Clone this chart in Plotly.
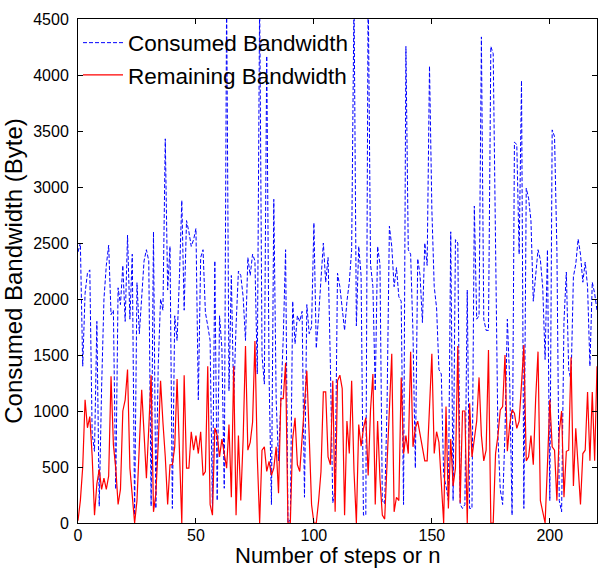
import plotly.graph_objects as go

steps = list(range(221))

consumed = [
    2420, 2500, 1400, 2050, 2230, 2260, 800, 640, 1800, 150,
    1200, 2000, 2300, 2480, 1860, 1900, 300, 2100, 1950, 2300,
    1800, 2570, 1820, 2400, 70, 2145, 1690, 1980, 2340, 2440,
    2340, 150, 2600, 130, 1400, 2000, 1900, 3430, 2080, 2470,
    130, 1850, 1630, 2200, 2880, 1900, 2700, 2600, 2470, 2530,
    2630, 1100, 2370, 2440, 1880, 1760, 1630, 100, 2340, 200,
    1850, 1560, 310, 4700, 1180, 2210, 1100, 1760, 2250, 2210,
    2020, 1630, 2370, 2210, 2400, 2340, 1330, 4700, 1500, 1240,
    4170, 1300, 165, 2890, 1100, 555, 1040, 1650, 2440, 0,
    30, 1980, 1600, 1850, 1800, 1890, 230, 1950, 1690, 1750,
    2680, 1560, 1850, 2180, 2500, 2150, 2370, 1400, 180, 300,
    2230, 2110, 1890, 1720, 1980, 2150, 2440, 4700, 1760, 2470,
    2210, 70, 70, 4800, 2310, 2110, 1180, 2470, 2310, 200,
    170, 1040, 2650, 2470, 2110, 2280, 2020, 1980, 165, 4255,
    2440, 2400, 1690, 490, 2360, 2210, 1790, 2500, 2300, 4080,
    2800, 2110, 1920, 1370, 1330, 425, 330, 200, 2600, 200,
    2530, 2500, 165, 130, 165, 2080, 130, 130, 2830, 1820,
    1850, 4340, 1820, 1720, 1720, 4255, 4190, 2400, 780, 300,
    165, 810, 1820, 1270, 70, 3400, 3380, 2400, 3950, 130,
    2990, 2900, 2700, 1980, 2180, 2440, 2350, 2100, 1460, 2440,
    200, 3510, 3450, 2440, 200, 100, 1800, 2240, 1370, 1270,
    2200, 2310, 2535, 2400, 2150, 2330, 2110, 1400, 2150, 2050,
    1900,
]

remaining = [
    20, 200, 500, 1100, 850, 950, 600, 70, 350, 480,
    300, 400, 300, 420, 1310, 700, 490, 165, 300, 1000,
    1100, 1370, 490, 250, 0, 200, 700, 1190, 800, 400,
    850, 1320, 100, 260, 700, 1270, 900, 590, 165, 520,
    520, 680, 1285, 590, 0, 1320, 490, 490, 815, 650,
    780, 620, 815, 425, 460, 1400, 165, 70, 850, 780,
    590, 750, 620, 490, 880, 230, 1400, 70, 780, 200,
    750, 1580, 650, 720, 900, 1625, 590, 0, 650, 680,
    460, 550, 425, 490, 680, 265, 1110, 1110, 1430, 0,
    0, 750, 940, 520, 460, 750, 1100, 1360, 780, 165,
    0, 0, 200, 460, 1170, 1170, 590, 520, 1270, 100,
    1270, 1320, 1200, 70, 910, 620, 1270, 460, 0, 880,
    685, 845, 940, 425, 1010, 1330, 165, 910, 390, 70,
    35, 520, 1075, 1510, 100, 230, 200, 1300, 620, 780,
    620, 1530, 680, 845, 910, 780, 650, 555, 555, 1000,
    1510, 620, 815, 720, 300, 0, 1040, 130, 750, 330,
    490, 1580, 180, 1000, 1000, 0, 1070, 590, 750, 910,
    1300, 780, 555, 650, 1545, 0, 0, 620, 780, 1010,
    1040, 1500, 640, 880, 1010, 980, 845, 910, 1240, 1590,
    555, 590, 780, 520, 1110, 1530, 200, 100, 0, 520,
    1100, 680, 650, 200, 815, 1000, 230, 640, 650, 1480,
    330, 845, 520, 165, 620, 650, 1170, 555, 1170, 555,
    1400,
]

x_ticks = [0, 50, 100, 150, 200]
y_ticks = [0, 500, 1000, 1500, 2000, 2500, 3000, 3500, 4000, 4500]
x_title = "Number of steps or n"
y_title = "Consumed Bandwidth (Byte)"

FONT = "Liberation Sans, Arial, sans-serif"

fig = go.Figure()
fig.add_trace(go.Scatter(
    x=steps, y=consumed, mode="lines", name="Consumed Bandwidth",
    line=dict(color="#0000FF", width=1, dash="4px,2px"),
))
fig.add_trace(go.Scatter(
    x=steps, y=remaining, mode="lines", name="Remaining Bandwidth",
    line=dict(color="#FF0000", width=1.2),
))

axis_common = dict(
    showline=True, linecolor="black", linewidth=1, mirror="ticks",
    ticks="inside", ticklen=5, tickcolor="black", tickwidth=1,
    showgrid=False, zeroline=False, automargin=False,
    tickfont=dict(family=FONT, size=16, color="black"),
)

fig.update_xaxes(range=[0, 220], tickvals=x_ticks, ticklabelstandoff=-2, **axis_common)
fig.update_yaxes(
    range=[0, 4500], tickvals=y_ticks, ticklabelstandoff=5,
    title=dict(text=y_title, font=dict(family=FONT, size=24, color="black"), standoff=3),
    **axis_common,
)

fig.add_annotation(
    text=x_title, xref="paper", yref="paper", x=0.5, y=-0.0905,
    xanchor="center", yanchor="bottom", showarrow=False, borderpad=0,
    font=dict(family=FONT, size=22, color="black"),
)

fig.update_layout(
    width=598, height=569,
    margin=dict(l=78, r=1, t=19, b=46),
    paper_bgcolor="white", plot_bgcolor="white",
    showlegend=True,
    legend=dict(
        x=0.0, y=0.995, xanchor="left", yanchor="top",
        bgcolor="rgba(0,0,0,0)", borderwidth=0,
        font=dict(family=FONT, size=22.5, color="black"),
        tracegroupgap=0, itemwidth=40,
    ),
)

fig.write_html(
    "out.html",
    config={"displayModeBar": False},
    post_script="document.body.style.margin='0';document.body.style.padding='0';",
)
